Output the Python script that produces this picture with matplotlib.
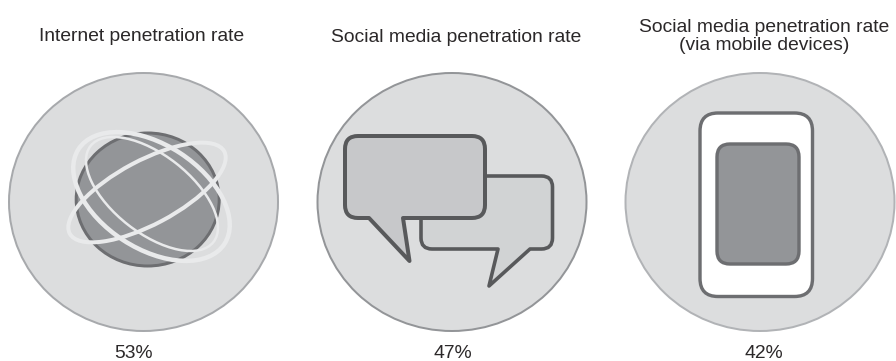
import matplotlib
matplotlib.use("Agg")
import matplotlib.pyplot as plt
from matplotlib.patches import Ellipse, FancyBboxPatch, PathPatch
from matplotlib.path import Path

titles = ["Internet penetration rate", "Social media penetration rate",
          "Social media penetration rate\n(via mobile devices)"]
rates = [53, 47, 42]
W, H = 896, 361
LW = 72 / 100  # one pixel expressed in points

plt.rcParams["font.family"] = ["Liberation Sans", "DejaVu Sans"]
fig = plt.figure(figsize=(W / 100, H / 100), dpi=100)
ax = fig.add_axes([0, 0, 1, 1])
ax.set_xlim(0, W)
ax.set_ylim(H, 0)
ax.axis("off")

TEXT = "#2b2829"
DISC = "#dcddde"
centers = [(143.5, 202), (452, 202), (760, 202)]
ring_colors = ["#a7a9ac", "#939598", "#b1b3b6"]
title_y = [36.5, 37, 36.5]
title_x = [142, 456.5, 764]
rate_x = [133.5, 453, 764]

for (cx, cy), edge in zip(centers, ring_colors):
    ax.add_patch(Ellipse((cx, cy), 269, 258, fc=DISC, ec=edge, lw=2 * LW))

# globe
ax.add_patch(Ellipse((147.7, 199.5), 143, 133, fc="#939598", ec="#6d6e71", lw=3 * LW))
orbits = [((151.5, 196.5), 174, 104, 33, 4.5),
          ((147, 192.5), 175, 64, -28, 4.0),
          ((152, 194), 156, 78, 38, 2.5)]
for xy, w, h, ang, lw in orbits:
    ax.add_patch(Ellipse(xy, w, h, angle=ang, fc="none", ec="#e9eaeb", lw=lw * LW))


def rounded_bubble(left, top, right, bottom, r, tail):
    verts = [(left + r, top), (right - r, top), (right, top), (right, top + r),
             (right, bottom - r), (right, bottom), (right - r, bottom)]
    codes = [Path.MOVETO, Path.LINETO, Path.CURVE3, Path.CURVE3,
             Path.LINETO, Path.CURVE3, Path.CURVE3]
    for p in tail:
        verts.append(p)
        codes.append(Path.LINETO)
    verts += [(left + r, bottom), (left, bottom), (left, bottom - r),
              (left, top + r), (left, top), (left + r, top), (left + r, top)]
    codes += [Path.LINETO, Path.CURVE3, Path.CURVE3,
              Path.LINETO, Path.CURVE3, Path.CURVE3, Path.CLOSEPOLY]
    return Path(verts, codes)


# speech bubbles: the rear one first
back = rounded_bubble(421, 176, 552.5, 249, 11,
                      [(530, 249), (489, 286), (498, 249)])
front = rounded_bubble(345, 136, 485, 218, 13,
                       [(403, 218), (409.5, 261), (369, 218)])
ax.add_patch(PathPatch(back, fc="#d1d3d4", ec="#58595b", lw=3.6 * LW, joinstyle="round"))
ax.add_patch(PathPatch(front, fc="#c7c8ca", ec="#58595b", lw=4 * LW, joinstyle="round"))


def rounded_rect(left, top, right, bottom, r, **kw):
    ax.add_patch(FancyBboxPatch((left + r, top + r), right - left - 2 * r, bottom - top - 2 * r,
                                boxstyle=f"round,pad={r},rounding_size={r}", **kw))


# phone
rounded_rect(700, 113, 812.5, 296.5, 18, fc="white", ec="#6d6e71", lw=3.4 * LW)
rounded_rect(717, 144, 799, 264, 13, fc="#939598", ec="#6d6e71", lw=3.4 * LW)

FS = 13.85
for x, y, t in zip(title_x, title_y, titles):
    ax.text(x, y, t, ha="center", va="center", fontsize=FS, color=TEXT, linespacing=1.1)
for x, v in zip(rate_x, rates):
    ax.text(x, 353.5, f"{v}%", ha="center", va="center", fontsize=FS, color=TEXT)

fig.savefig("out.png", dpi=100, facecolor="white")
